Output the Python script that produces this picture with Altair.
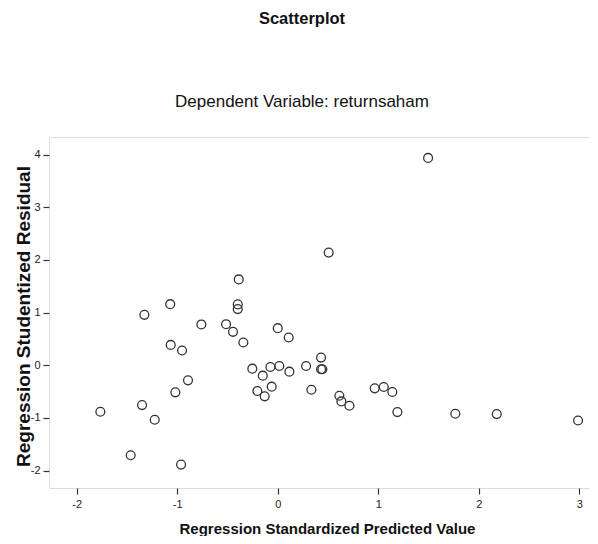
import altair as alt
import pandas as pd

# Regression Standardized Predicted Value (x) and Studentized Residual (y)
predicted = [
    -1.327, -1.070, -0.398, -0.398, -0.388, -0.760, -0.514, -0.445, -0.342, 0.000,
    0.109, -1.065, -0.952, -0.893, -1.019, -0.253, -0.149, -0.073, 0.016, 0.116,
    -0.060, -0.203, -0.130, 0.282, 0.431, 0.431, 0.444, 0.335, -1.765, -1.350,
    -1.224, -1.463, -0.962, 0.613, 0.633, 0.713, 0.965, 1.055, 1.140, 1.190,
    1.767, 2.179, 2.988, 1.496, 0.507,
]
residual = [
    0.958, 1.160, 1.156, 1.067, 1.630, 0.775, 0.780, 0.635, 0.432, 0.705,
    0.527, 0.387, 0.280, -0.286, -0.514, -0.064, -0.197, -0.032, -0.013, -0.121,
    -0.406, -0.489, -0.590, -0.013, 0.146, -0.076, -0.076, -0.464, -0.883, -0.756,
    -1.035, -1.708, -1.886, -0.578, -0.686, -0.768, -0.438, -0.413, -0.508, -0.889,
    -0.921, -0.927, -1.048, 3.937, 2.139,
]
x_ticks = [-2, -1, 0, 1, 2, 3]
y_ticks = [-2, -1, 0, 1, 2, 3, 4]

df = pd.DataFrame({"pred": predicted, "resid": residual})

FONT = "Liberation Sans"

chart = (
    alt.Chart(df)
    .mark_point(shape="circle", filled=False, size=78, stroke="#333333", strokeWidth=1.3, opacity=1)
    .encode(
        x=alt.X(
            "pred:Q",
            scale=alt.Scale(domain=[-2.276, 3.107], nice=False, zero=False),
            axis=alt.Axis(
                title="Regression Standardized Predicted Value",
                values=x_ticks,
                labelExpr="'' + datum.value",
                grid=False,
                domain=False,
                tickSize=6,
                tickColor="#333333",
                tickWidth=1.2,
                labelPadding=4,
                labelFontSize=11,
                labelColor="#222222",
                labelFont=FONT,
                titleFont=FONT,
                titleFontSize=15,
                titleFontWeight="bold",
                titleColor="#111111",
                titleX=278,
                titleY=45,
                titleAlign="center",
                titleBaseline="alphabetic",
            ),
        ),
        y=alt.Y(
            "resid:Q",
            scale=alt.Scale(domain=[-2.33, 4.334], nice=False, zero=False),
            axis=alt.Axis(
                title="Regression Studentized Residual",
                values=y_ticks,
                labelExpr="'' + datum.value",
                grid=False,
                domain=False,
                tickSize=6,
                tickColor="#333333",
                tickWidth=1.2,
                labelPadding=3,
                labelFontSize=11,
                labelColor="#222222",
                labelFont=FONT,
                titleFont=FONT,
                titleFontSize=19,
                titleFontWeight="bold",
                titleColor="#111111",
                titleX=-20,
                titleY=179,
                titleAngle=-90,
                titleBaseline="alphabetic",
            ),
        ),
    )
    .properties(
        width=541,
        height=351,
        autosize="none",
        padding={"left": 41, "top": 129, "right": 0, "bottom": 48},
        title=alt.TitleParams(
            text="Scatterplot",
            subtitle="Dependent Variable: returnsaham",
            anchor="middle",
            frame="group",
            dx=-17.5,
            offset=27,
            font=FONT,
            fontSize=16.5,
            fontWeight="bold",
            color="#111111",
            subtitleFont=FONT,
            subtitleFontSize=17,
            subtitleColor="#111111",
            subtitlePadding=67,
        ),
    )
    .configure_view(fill="#f0f0f0", stroke="#555555", strokeWidth=1.5)
    .configure(background="white")
)

chart.save("out.html", embed_options={"renderer": "svg", "actions": False})
